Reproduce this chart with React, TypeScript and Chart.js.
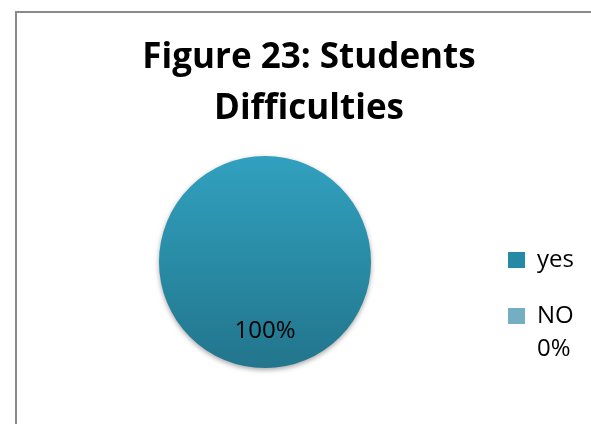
import React, { useEffect, useRef } from "react";
import { Chart, registerables } from "chart.js";

Chart.register(...registerables);

const titleLines = ["Figure 23: Students", "Difficulties"];
const categories = ["yes", "NO"];
const values = [100, 0];
const legendTexts: (string | string[])[] = ["yes", ["NO", "0%"]];
const pointLabels = ["100%", "0%"];

const FONT = "'Open Sans', sans-serif";

export default function App() {
  const ref = useRef<HTMLCanvasElement | null>(null);

  useEffect(() => {
    document.body.style.overflow = "hidden";
    const canvas = ref.current;
    if (!canvas) return;

    const labelPlugin = {
      id: "pieLabels",
      afterDatasetsDraw(chart: any) {
        const ctx = chart.ctx;
        const meta = chart.getDatasetMeta(0);
        ctx.save();
        ctx.font = `24px ${FONT}`;
        ctx.fillStyle = "#000";
        ctx.textAlign = "center";
        ctx.textBaseline = "middle";
        meta.data.forEach((arc: any, i: number) => {
          if (!values[i]) return;
          const p = arc.getProps(["x", "y", "startAngle", "endAngle", "outerRadius"], true);
          const mid = (p.startAngle + p.endAngle) / 2;
          const r = p.outerRadius * 0.65;
          ctx.fillText(pointLabels[i], p.x + Math.cos(mid) * r, p.y + Math.sin(mid) * r);
        });
        ctx.restore();
      },
    };

    const shadowPlugin = {
      id: "shadow",
      beforeDatasetsDraw(chart: any) {
        const ctx = chart.ctx;
        ctx.save();
        ctx.shadowColor = "rgba(0,0,0,0.35)";
        ctx.shadowBlur = 5;
        ctx.shadowOffsetY = 2;
      },
      afterDatasetsDraw(chart: any) {
        chart.ctx.restore();
      },
    };

    const chart = new Chart(canvas, {
      type: "pie",
      data: {
        labels: categories,
        datasets: [
          {
            data: values,
            borderWidth: 0,
            backgroundColor: (c: any) => {
              const { chart: ch, dataIndex } = c;
              const area = ch.chartArea;
              if (!area) return "#2a93b2";
              const g = ch.ctx.createLinearGradient(0, area.top, 0, area.bottom);
              if (dataIndex === 0) {
                g.addColorStop(0, "#31a1bf");
                g.addColorStop(1, "#22758c");
              } else {
                g.addColorStop(0, "#86c6dd");
                g.addColorStop(1, "#5f95a9");
              }
              return g;
            },
          },
        ],
      },
      options: {
        responsive: false,
        animation: false,
        layout: { padding: { left: 18, right: 12, top: 0, bottom: 56 } },
        plugins: {
          title: {
            display: true,
            text: titleLines,
            color: "#000",
            font: { family: FONT, size: 35, weight: "bold", lineHeight: 1.457 },
            padding: { top: 20, bottom: 21 },
          },
          subtitle: {
            display: true,
            position: "left",
            fullSize: false,
            text: " ",
            color: "rgba(0,0,0,0)",
            font: { size: 10, lineHeight: 1 },
            padding: { top: 10, bottom: 0 },
          },
          legend: {
            position: "right",
            align: "start",
            maxWidth: 108,
            title: {
              display: true,
              text: " ",
              font: { size: 12, lineHeight: 1.2 },
              padding: { top: 188.6, bottom: 0 },
            },
            labels: {
              color: "#000",
              font: { family: FONT, size: 24, lineHeight: 1.375 },
              boxWidth: 17,
              boxHeight: 16,
              padding: 32,
              generateLabels: () =>
                categories.map((c, i) => ({
                  text: legendTexts[i] as any,
                  fillStyle: i === 0 ? "#2689a6" : "#74aec3",
                  strokeStyle: "transparent",
                  fontColor: "#000",
                  lineWidth: 0,
                  hidden: false,
                  index: i,
                })),
            },
          },
          tooltip: { enabled: false },
        },
      },
      plugins: [shadowPlugin, labelPlugin],
    });
    return () => chart.destroy();
  }, []);

  return (
    <div style={{ position: "fixed", left: 0, top: 0, width: 591, height: 424, overflow: "hidden", background: "#fff" }}>
      <div
        style={{
          position: "absolute",
          left: 15,
          top: 11,
          width: 600,
          height: 450,
          border: "2px solid #8a8a8a",
          boxSizing: "border-box",
        }}
      />
      <canvas ref={ref} width={580} height={411} style={{ position: "absolute", left: 16, top: 13 }} />
    </div>
  );
}
